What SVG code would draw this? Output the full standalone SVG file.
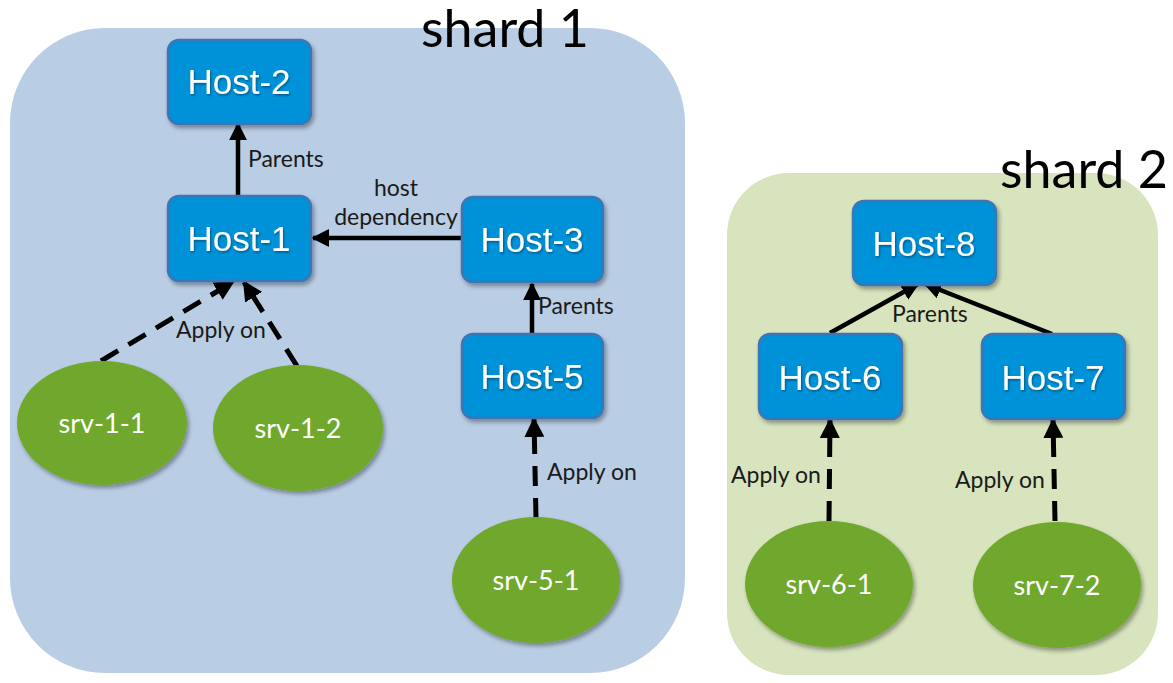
<svg xmlns="http://www.w3.org/2000/svg" width="1173" height="683" viewBox="0 0 1173 683">
<style>
.shard1{fill:#b9cde4}
.shard2{fill:#d7e4bd}
.host rect{fill:#0092d9;stroke:#3f74b5;stroke-width:2.5}
.host text{fill:#fff;font-family:"Liberation Sans",Arial,sans-serif;font-size:35px;text-anchor:middle}
.srv ellipse{fill:#6fa82f}
.srv text{fill:#fff;font-family:Lato,"Open Sans",sans-serif;font-size:27px;text-anchor:middle}
.title{fill:#000;font-family:Lato,"Open Sans",sans-serif;font-size:52px}
.lbl{fill:#1a1a1a;font-family:Lato,"Open Sans",sans-serif;font-size:23px}
.solid{stroke:#000;stroke-width:4.5;fill:none;marker-end:url(#ah)}
.dash{stroke:#000;stroke-width:5;fill:none;stroke-dasharray:20 12;marker-end:url(#ah)}
</style>
<defs>
<marker id="ah" viewBox="0 0 10 10" refX="9" refY="5" markerWidth="4" markerHeight="4" orient="auto" markerUnits="strokeWidth">
<path d="M0,0 L10,5 L0,10 Z" fill="#000"/>
</marker>
<filter id="sh" x="-10%" y="-10%" width="125%" height="130%">
<feDropShadow dx="2" dy="3" stdDeviation="2" flood-color="#000" flood-opacity="0.35"/>
</filter>
<filter id="tsh" x="-10%" y="-10%" width="120%" height="130%">
<feDropShadow dx="1" dy="1.5" stdDeviation="0.8" flood-color="#000" flood-opacity="0.4"/>
</filter>
</defs>
<rect x="0" y="0" width="1173" height="683" fill="#fff"/>
<g id="shard1">
<rect class="shard1" x="10" y="28" width="675" height="645" rx="95" ry="95"/>
<text class="title" x="421" y="47">shard 1</text>
</g>
<g id="shard2">
<rect class="shard2" x="727" y="173" width="431" height="502" rx="62" ry="62"/>
<text class="title" x="1000" y="188">shard 2</text>
</g>
<g id="connectors">
<line class="solid" x1="238" y1="196" x2="238" y2="124"/>
<line class="solid" x1="461" y1="238" x2="313" y2="238"/>
<line class="solid" x1="532" y1="334" x2="532" y2="284"/>
<line class="dash" x1="101" y1="361" x2="233" y2="282"/>
<line class="dash" x1="297" y1="366" x2="244" y2="282"/>
<line class="dash" x1="536" y1="518" x2="534" y2="419"/>
<line class="solid" x1="830" y1="333" x2="918" y2="284"/>
<line class="solid" x1="1052" y1="334" x2="925" y2="284"/>
<line class="dash" x1="829" y1="521" x2="830" y2="420"/>
<line class="dash" x1="1055" y1="521" x2="1053" y2="420"/>
<text class="lbl" x="248" y="167">Parents</text>
<text class="lbl" x="396" y="196" text-anchor="middle">host</text>
<text class="lbl" x="396" y="225" text-anchor="middle">dependency</text>
<text class="lbl" x="176" y="338">Apply on</text>
<text class="lbl" x="538" y="314">Parents</text>
<text class="lbl" x="547" y="480">Apply on</text>
<text class="lbl" x="892" y="322">Parents</text>
<text class="lbl" x="731" y="483">Apply on</text>
<text class="lbl" x="955" y="488">Apply on</text>
</g>
<g id="host-2" class="host"><rect x="168" y="40" width="143" height="84" rx="11" filter="url(#sh)"/><text x="239" y="94" filter="url(#tsh)">Host-2</text></g>
<g id="host-1" class="host"><rect x="168" y="196" width="143" height="85" rx="11" filter="url(#sh)"/><text x="239" y="251" filter="url(#tsh)">Host-1</text></g>
<g id="host-3" class="host"><rect x="462" y="197" width="141" height="85" rx="11" filter="url(#sh)"/><text x="532" y="252" filter="url(#tsh)">Host-3</text></g>
<g id="host-5" class="host"><rect x="462" y="334" width="141" height="84" rx="11" filter="url(#sh)"/><text x="532" y="389" filter="url(#tsh)">Host-5</text></g>
<g id="host-8" class="host"><rect x="853" y="201" width="143" height="84" rx="11" filter="url(#sh)"/><text x="924" y="256" filter="url(#tsh)">Host-8</text></g>
<g id="host-6" class="host"><rect x="759" y="334" width="143" height="85" rx="11" filter="url(#sh)"/><text x="830" y="390" filter="url(#tsh)">Host-6</text></g>
<g id="host-7" class="host"><rect x="982" y="334" width="143" height="85" rx="11" filter="url(#sh)"/><text x="1053" y="390" filter="url(#tsh)">Host-7</text></g>
<g id="srv-1-1" class="srv"><ellipse cx="102" cy="423" rx="85" ry="62" filter="url(#sh)"/><text x="102" y="433">srv-1-1</text></g>
<g id="srv-1-2" class="srv"><ellipse cx="298" cy="428" rx="85" ry="63" filter="url(#sh)"/><text x="298" y="438">srv-1-2</text></g>
<g id="srv-5-1" class="srv"><ellipse cx="536" cy="580" rx="84" ry="63" filter="url(#sh)"/><text x="536" y="590">srv-5-1</text></g>
<g id="srv-6-1" class="srv"><ellipse cx="829" cy="584" rx="84" ry="63" filter="url(#sh)"/><text x="829" y="594">srv-6-1</text></g>
<g id="srv-7-2" class="srv"><ellipse cx="1057" cy="585" rx="84" ry="63" filter="url(#sh)"/><text x="1057" y="595">srv-7-2</text></g>
</svg>
